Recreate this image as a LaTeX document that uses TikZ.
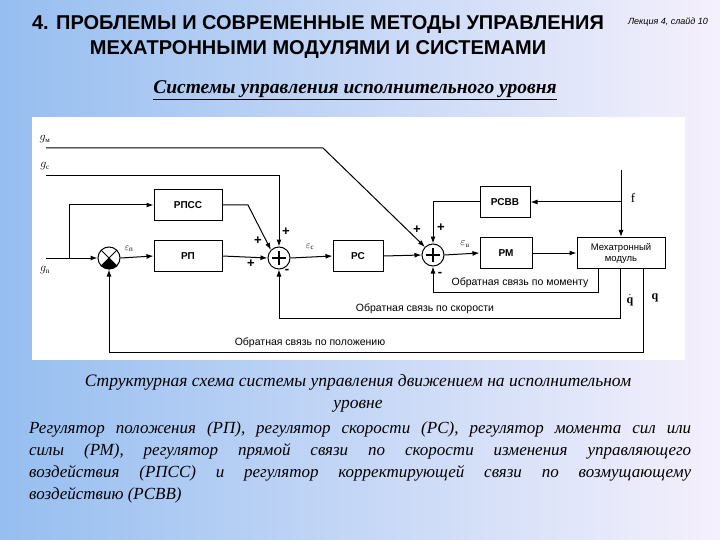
\documentclass[tikz,border=0pt]{standalone}
\usepackage{fontspec}
\setmainfont{Liberation Serif}
\setsansfont{Liberation Sans}
\usetikzlibrary{arrows.meta,calc}
\newcommand{\sbx}[1]{\mbox{\fontsize{7}{7}\selectfont #1}}
\begin{document}
\begin{tikzpicture}[x=1pt,y=-1pt,
  blk/.style={draw,line width=1pt,minimum width=#1,minimum height=31pt,font=\sffamily\bfseries\fontsize{10}{11}\selectfont,inner sep=0pt},
  sm/.style={draw,circle,line width=1pt,minimum size=22pt,inner sep=0pt},
  ar/.style={line width=1pt,-{Latex[length=7pt,width=5pt]}},
  sg/.style={font=\sffamily\bfseries\fontsize{13}{13}\selectfont,inner sep=0pt},
  lb/.style={font=\sffamily\fontsize{10.5}{11}\selectfont,inner sep=1pt},
  gl/.style={font=\fontsize{12}{12}\selectfont,inner sep=0pt}]
\useasboundingbox (0,0) rectangle (720,540);
\shade[left color={rgb,255:red,150;green,190;blue,240},right color={rgb,255:red,245;green,240;blue,252}] (0,0) rectangle (720,540);
\fill[white] (32,117) rectangle (685,360);
% titles
\node[font=\sffamily\bfseries\fontsize{20}{25}\selectfont,align=center] (t) at (318,37) {4. ПРОБЛЕМЫ И СОВРЕМЕННЫЕ МЕТОДЫ УПРАВЛЕНИЯ\\МЕХАТРОННЫМИ МОДУЛЯМИ И СИСТЕМАМИ};
\node[font=\sffamily\itshape\fontsize{9}{10}\selectfont] (ls) at (668,22) {Лекция 4, слайд 10};
\node[font=\bfseries\itshape\fontsize{19.5}{21}\selectfont] (st) at (355,90) {\underline{Системы управления исполнительного уровня}};
% blocks
\node[blk=68pt] (rpss) at (188,205) {РПСС};
\node[blk=68pt] (rp) at (188,256) {РП};
\node[blk=50pt] (rs) at (358,256) {РС};
\node[blk=52pt] (rm) at (506,253) {РМ};
\node[blk=50pt] (rsvv) at (505,202) {РСВВ};
\node[blk=88pt,font=\sffamily\fontsize{9.5}{11}\selectfont,align=center] (mm) at (621,253) {Мехатронный\\модуль};
\node[sm] (c0) at (109,258) {};
\fill (c0.center) -- (c0.-45) arc(-45:-135:11pt) -- cycle;
\draw[line width=1pt] (c0.45)--(c0.-135) (c0.135)--(c0.-45);
\node[sm] (s1) at (279,258) {};
\node[sm] (s2) at (433,255) {};
\draw[line width=1.5pt] ($(s1.center)+(-7,0)$)--($(s1.center)+(7,0)$) ($(s1.center)+(0,-7)$)--($(s1.center)+(0,7)$);
\draw[line width=1.5pt] ($(s2.center)+(-7,0)$)--($(s2.center)+(7,0)$) ($(s2.center)+(0,-7)$)--($(s2.center)+(0,7)$);
% inputs
\coordinate (gm0) at (46,148); \coordinate (gm1) at (323,148);
\coordinate (gc0) at (46,176); \coordinate (gc1) at (279,176);
\coordinate (gp0) at (46,258); \coordinate (br) at (69,258);
\node[gl] (lgm) at (45,139) {$g_{\sbx{м}}$};
\node[gl] (lgc) at (45,166) {$g_{\sbx{с}}$};
\node[gl] (lgp) at (45,270) {$g_{\sbx{п}}$};
\draw[ar] (gm0)--(gm1)--(s2.north west);
\draw[ar] (gc0)--(gc1)--(s1.north);
\draw[ar] (gp0)--(c0.west);
\draw[ar] (br)|-(rpss.west);
\draw[ar] (c0.east)--(rp.west);
\draw[ar] (rpss.east)--(248,205)--(s1.north west);
\draw[ar] (rp.east)--(s1.west);
\draw[ar] (s1.east)--(rs.west);
\draw[ar] (rs.east)--(s2.west);
\draw[ar] (s2.east)--(rm.west);
\draw[ar] (rm.east)--(mm.west);
% f
\coordinate (f0) at (621,170); \coordinate (fb) at (621,202);
\draw[ar] (f0)--(mm.north);
\draw[ar] (fb)--(rsvv.east);
\node[font=\fontsize{13}{13}\selectfont] (lf) at (633,198) {f};
\draw[ar] (rsvv.west)-|(s2.north);
% feedbacks
\coordinate (m1) at (598,292);
\draw[ar] (mm.south -| m1)--(m1)-|(s2.south);
\node[lb] (lm) at (520,283) {Обратная связь по моменту};
\coordinate (v1) at (620,318);
\draw[ar] (mm.south -| v1)--(v1)-|(s1.south);
\node[lb] (lv) at (425,309) {Обратная связь по скорости};
\coordinate (p1) at (643,352);
\draw[ar] (mm.south -| p1)--(p1)-|(c0.south);
\node[lb] (lp) at (310,343) {Обратная связь по положению};
\node[gl] (lqd) at (630,300) {$\dot{\mathbf q}$};
\node[gl] (lq) at (655,298) {$\mathbf q$};
\node[gl,font=\fontsize{10}{10}\selectfont] (ep) at (129,249) {$\varepsilon_{\sbx{п}}$};
\node[gl,font=\fontsize{10}{10}\selectfont] (ec) at (310,247) {$\varepsilon_{\sbx{с}}$};
\node[gl,font=\fontsize{11}{11}\selectfont] (eu) at (465,244) {$\varepsilon_{\sbx{u}}$};
% signs
\node[sg] at (258,241) {+}; \node[sg] at (286,232) {+};
\node[sg] at (251,264) {+}; \node[sg] at (287,271) {-};
\node[sg] at (417,230) {+}; \node[sg] at (441,228) {+};
\node[sg] at (440,274) {-};
% captions
\node[font=\itshape\fontsize{17.5}{22}\selectfont,align=center] (cap) at (358,393) {Структурная схема системы управления движением на исполнительном\\уровне};
\node[font=\itshape\fontsize{17}{22}\selectfont,text width=662pt,align=justify,inner sep=0pt,anchor=north west] (par) at (29,422) {Регулятор положения (РП), регулятор скорости (РС), регулятор момента сил или\linebreak силы (РМ), регулятор прямой связи по скорости изменения управляющего\linebreak воздействия (РПСС) и регулятор корректирующей связи по возмущающему\linebreak воздействию (РСВВ)};
\end{tikzpicture}
\end{document}
